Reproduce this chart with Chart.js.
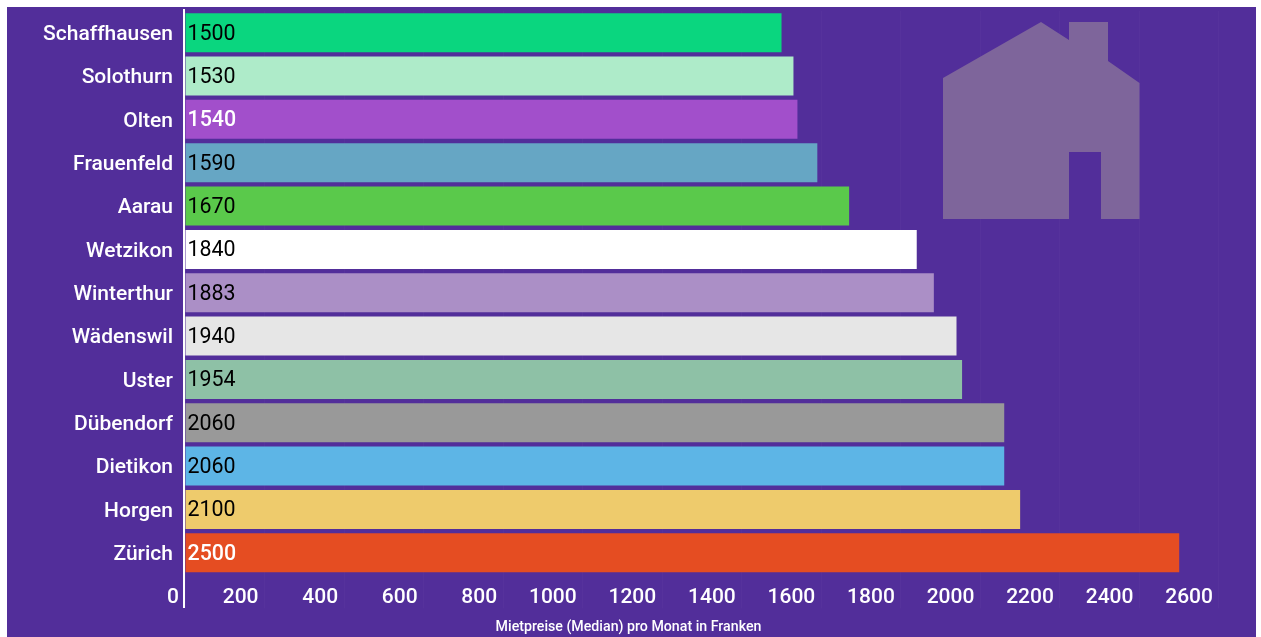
<!DOCTYPE html>
<html lang="de">
<head>
<meta charset="utf-8">
<title>Mietpreise</title>
<script src="https://cdn.jsdelivr.net/npm/chart.js@4"></script>
<style>
    html, body { margin: 0; padding: 0; background: #fff; overflow: hidden; }
    #wrap { position: absolute; left: 7px; top: 7px; width: 1249px; height: 630px; background: #522e9a; }
    #house { position: absolute; left: 0; top: 0; pointer-events: none; }
</style>
</head>
<body>
<div id="wrap">
    <canvas id="rentChart"></canvas>
    <!-- Haus im Hintergrund -->
    <svg id="house" width="1249" height="630">
        <polygon fill="#7e659b" points="936,71 1034,15 1062,33 1062,15 1101,15 1101,54 1132.5,76 1132.5,212 1094,212 1094,145 1062,145 1062,212 936,212"/>
    </svg>
</div>
<script>
const cities = ['Schaffhausen', 'Solothurn', 'Olten', 'Frauenfeld', 'Aarau', 'Wetzikon', 'Winterthur', 'Wädenswil', 'Uster', 'Dübendorf', 'Dietikon', 'Horgen', 'Zürich'];
const rents = [1500, 1530, 1540, 1590, 1670, 1840, 1883, 1940, 1954, 2060, 2060, 2100, 2500];
const barColors = ['#0ad67f', '#aeebc9', '#a24fcb', '#66a6c4', '#5ac94b', '#ffffff', '#ab8fc6', '#e6e6e6', '#8ec1a6', '#999999', '#5db5e6', '#eecb6c', '#e54d22'];
const valueColors = ['#000', '#000', '#fff', '#000', '#000', '#000', '#000', '#000', '#000', '#000', '#000', '#000', '#fff'];

const fontFamily = 'Roboto, sans-serif';

// Wert links im Balken, Achsenlinie über die ganze Höhe
const barValues = {
    id: 'barValues',
    afterDatasetsDraw(chart) {
        const ctx = chart.ctx;
        const bars = chart.getDatasetMeta(0).data;
        ctx.save();
        ctx.textAlign = 'left';
        ctx.textBaseline = 'middle';
        bars.forEach((bar, i) => {
            ctx.font = (valueColors[i] === '#fff' ? '500' : '400') + ' 21.4px ' + fontFamily;
            ctx.fillStyle = valueColors[i];
            ctx.fillText(rents[i], bar.base + 2, bar.y + 1.5);
        });
        const x0 = chart.scales.x.getPixelForValue(0);
        ctx.fillStyle = '#fff';
        ctx.fillRect(x0 - 2, 2, 2, 599);
        ctx.restore();
    }
};

const ctx = document.getElementById('rentChart').getContext('2d');
const rentChart = new Chart(ctx, {
    type: 'bar',
    data: {
        labels: cities,
        datasets: [{
            label: 'Mietpreise',
            data: rents,
            backgroundColor: barColors,
            borderWidth: 0,
            barPercentage: 0.9,
            categoryPercentage: 1
        }]
    },
    options: {
        indexAxis: 'y',
        responsive: true,
        maintainAspectRatio: false,
        animation: false,
        layout: { padding: { top: 4, right: 6, left: 0, bottom: 0 } },
        plugins: {
            legend: { display: false },
            tooltip: { enabled: false },
            title: {
                display: true,
                position: 'bottom',
                text: 'Mietpreise (Median) pro Monat in Franken',
                color: '#fff',
                font: { family: fontFamily, size: 14.2, weight: '500' },
                padding: { top: 1, bottom: 1 }
            }
        },
        scales: {
            x: {
                min: 0,
                max: 2678,
                afterFit(scale) { scale.height = 43.5; },
                border: { display: false },
                grid: {
                    color: 'rgba(255,255,255,0.025)',
                    tickColor: 'rgba(255,255,255,0.025)',
                    tickLength: 34
                },
                ticks: {
                    stepSize: 200,
                    includeBounds: false,
                    align: 'end',
                    labelOffset: -6,
                    padding: -23,
                    maxRotation: 0,
                    autoSkip: false,
                    color: '#fff',
                    font: { family: fontFamily, size: 21, weight: '500' },
                    callback: value => value
                }
            },
            y: {
                afterFit(scale) {
                    scale.width = 178;
                    scale.paddingTop = 0;
                    scale.paddingBottom = 0;
                },
                border: { display: false },
                grid: { display: false },
                ticks: {
                    padding: 4,
                    labelOffset: 2,
                    autoSkip: false,
                    color: '#fff',
                    font: { family: fontFamily, size: 21, weight: '500' }
                }
            }
        }
    },
    plugins: [barValues]
});
</script>
</body>
</html>
